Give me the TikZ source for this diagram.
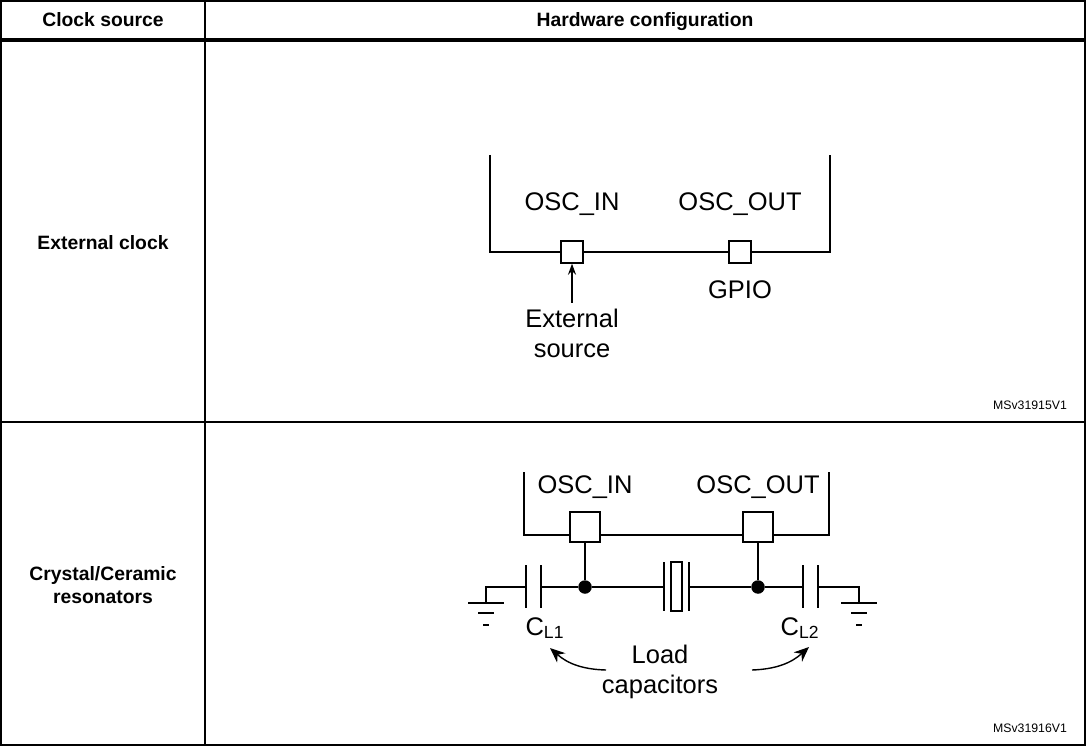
\documentclass[tikz,border=0pt]{standalone}
\usepackage{fontspec}
\setmainfont{Liberation Sans}
\usetikzlibrary{arrows.meta,positioning}
\tikzset{
    % Box styles
    pin box/.style={draw, thick, fill=white, minimum size=0.44cm, inner sep=0pt},
    head text/.style={font=\bfseries\fontsize{11}{13}\selectfont, text depth=0.25ex},
    clock text/.style={font=\bfseries\fontsize{11}{13}\selectfont, align=center},
    sig text/.style={font=\fontsize{14.5}{17}\selectfont, align=center},
    ref text/.style={font=\fontsize{7}{8}\selectfont},
    % Wire styles
    wire/.style={thick},
    dot/.style={circle, fill, inner sep=0pt, minimum size=0.27cm}
}
\begin{document}
\begin{tikzpicture}[x=0.02cm, y=-0.02cm]
        \useasboundingbox (0,0) rectangle (1087,746);
        % Table frame
        \draw[thick] (1,1) rectangle (1085,745);
        \draw[thick] (205,1) -- (205,745);
        \draw[line width=2.2pt] (1,40) -- (1085,40);
        \draw[thick] (1,422) -- (1085,422);
        \node[head text] (hclk) at (103,21) {Clock source};
        \node[head text] (hhw) at (645,21) {Hardware configuration};
        \node[clock text] (ext) at (103,243) {External clock};
        \node[clock text] (xtal) at (103,585) {Crystal/Ceramic\\resonators};

        % External clock
        \draw[wire] (490,155) -- (490,252) -- (830,252) -- (830,155);
        \node[pin box] (pin1) at (572,252) {};
        \node[pin box] (pout1) at (740,252) {};
        \node[sig text] (lin1) at (572,204) {OSC\_IN};
        \node[sig text] (lout1) at (740,204) {OSC\_OUT};
        \node[sig text] (gpio) at (740,290) {GPIO};
        \node[sig text] (src) at (572,333) {External\\source};
        \draw[wire, -{Stealth[length=2.2mm, width=1.6mm]}] (src.north) -- (pin1.south);
        \node[ref text] (ref1) at (1030,405) {MSv31915V1};

        % Crystal / ceramic resonators
        \draw[wire] (524,472) -- (524,535) -- (829,535) -- (829,472);
        \node[pin box, minimum size=0.6cm] (pin2) at (585,527) {};
        \node[pin box, minimum size=0.6cm] (pout2) at (758,527) {};
        \node[sig text] (lin2) at (585,487) {OSC\_IN};
        \node[sig text] (lout2) at (758,487) {OSC\_OUT};
        \node[dot] (na) at (585,587) {};
        \node[dot] (nb) at (758,587) {};
        \draw[wire] (pin2.south) -- (na);
        \draw[wire] (pout2.south) -- (nb);
        \draw[wire] (na) -- (664,587) (689,587) -- (nb);
        \draw[wire] (na) -- (541,587) (526,587) -- (486,587) -- (486,603);
        \draw[wire] (nb) -- (803,587) (818,587) -- (859,587) -- (859,603);
        % capacitors
        \foreach \x in {526,541,803,818} {
            \draw[wire] (\x,565) -- (\x,608);
        }
        % crystal
        \draw[wire] (664,562) -- (664,611) (689,562) -- (689,611);
        \draw[wire] (671,562) rectangle (682,611);
        % grounds
        \foreach \g in {486,859} {
            \draw[wire] (\g-18,603) -- (\g+18,603);
            \draw[wire] (\g-8,613) -- (\g+8,613);
            \draw[wire] (\g-3,625) -- (\g+3,625);
        }
        \node[sig text] (cl1) at (545,628) {C\textsubscript{\fontsize{10}{12}\selectfont L1}};
        \node[sig text] (cl2) at (800,628) {C\textsubscript{\fontsize{10}{12}\selectfont L2}};
        \node[sig text] (load) at (660,672) {Load\\capacitors};
        \draw[wire, -{Stealth[length=3mm, width=2.5mm]}] (606,670) to[bend left=20] (550,648);
        \draw[wire, -{Stealth[length=3mm, width=2.5mm]}] (752,670) to[bend right=20] (809,647);
        \node[ref text] (ref2) at (1030,728) {MSv31916V1};
    \end{tikzpicture}
\end{document}
